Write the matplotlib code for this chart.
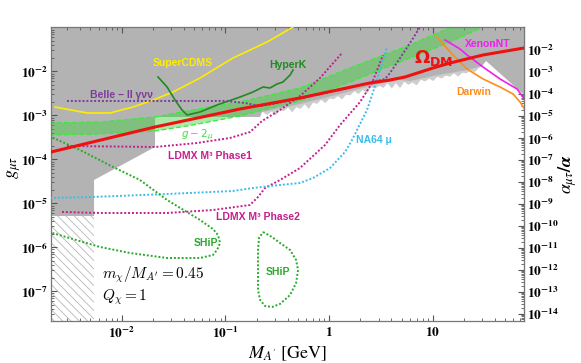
import numpy as np
import matplotlib
matplotlib.use('Agg')
import matplotlib.pyplot as plt
from matplotlib.ticker import FixedLocator, FuncFormatter, NullFormatter, LogLocator

plt.rcParams['mathtext.fontset'] = 'stix'
plt.rcParams['hatch.linewidth'] = 0.6

# ---------------- data (log10 M_A'/GeV , log10 g_mu_tau) ----------------
omega_lm = [-2.681, -1.678, -0.858, -0.280, 0.395, 0.588, 0.733, 1.003, 1.167, 1.485, 1.880]
omega_lg = [-3.830, -3.261, -2.852, -2.602, -2.261, -2.193, -2.125, -1.920, -1.807, -1.625, -1.466]

g2_up_lm = [-2.70, -2.208, -1.678, -1.369, -0.858, -0.280, 0.203, 0.781, 1.186]
g2_up_lg = [-3.170, -3.148, -3.034, -2.898, -2.693, -2.375, -1.920, -1.398, -0.980]
g2_lo_lm = [-2.70, -2.208, -1.678, -1.369, -0.858, -0.280, 0.203, 0.781, 1.167, 1.495]
g2_lo_lg = [-3.443, -3.420, -3.352, -3.239, -3.011, -2.670, -2.239, -1.693, -1.330, -0.980]

cdms_lm = [-2.642, -2.334, -2.112, -1.890, -1.697, -1.504, -1.244, -0.926, -0.598, -0.347]
cdms_lg = [-2.807, -2.943, -2.943, -2.807, -2.648, -2.466, -2.148, -1.693, -1.330, -0.989]

hyperk_lm = [-1.649, -1.562, -1.485, -1.418, -1.369, -1.244, -1.080, -0.858, -0.733, -0.636, -0.569, -0.501, -0.444, -0.376, -0.347]
hyperk_lg = [-2.125, -2.352, -2.648, -2.875, -2.989, -2.920, -2.761, -2.580, -2.466, -2.352, -2.375, -2.284, -2.239, -2.080, -1.966]

belle_lm = [-2.527, -1.003, -0.810, -0.665, -0.540, -0.212, 0.106, 0.424, 0.540, 0.588, 0.685, 0.781, 0.878]
belle_lg = [-2.670, -2.670, -2.716, -2.784, -2.739, -2.580, -2.420, -2.239, -2.170, -2.034, -1.693, -1.352, -0.989]

ldmx1_lm = [-2.527, -1.678, -1.273, -0.955, -0.762, -0.646, -0.473, -0.280, -0.087, 0.125]
ldmx1_lg = [-3.693, -3.716, -3.625, -3.511, -3.375, -3.125, -2.875, -2.557, -2.148, -1.580]

ldmx2_lm = [-2.575, -2.208, -1.562, -1.119, -0.762, -0.685, -0.617, -0.473, -0.280, -0.039, 0.106, 0.299, 0.415, 0.521]
ldmx2_lg = [-5.193, -5.216, -5.216, -5.148, -5.034, -4.852, -4.648, -4.466, -4.193, -3.670, -3.216, -2.693, -2.261, -1.625]

na64_lm = [-2.690, -2.276, -1.562, -0.926, -0.733, -0.473, -0.280, -0.154, 0.010, 0.154, 0.222, 0.299, 0.366, 0.424, 0.492, 0.559]
na64_lg = [-4.875, -4.852, -4.784, -4.716, -4.648, -4.580, -4.534, -4.420, -4.193, -3.830, -3.557, -3.193, -2.875, -2.466, -1.966, -1.443]

ship1_lm = [-2.70, -2.401, -2.083, -1.823, -1.562, -1.244, -1.119, -1.070, -1.051, -1.080, -1.119, -1.244, -1.562, -1.919, -2.208, -2.70]
ship1_lg = [-3.466, -3.784, -4.170, -4.466, -4.920, -5.375, -5.580, -5.720, -5.898, -6.057, -6.170, -6.239, -6.239, -6.125, -5.989, -5.648]

ship2_lm = [-0.636, -0.550, -0.473, -0.376, -0.318, -0.299, -0.318, -0.376, -0.473, -0.550, -0.617, -0.665, -0.685, -0.685, -0.685, -0.675, -0.636]
ship2_lg = [-5.648, -5.761, -5.898, -6.057, -6.284, -6.511, -6.807, -7.080, -7.284, -7.352, -7.330, -7.193, -6.966, -6.511, -6.057, -5.784, -5.648]

xenon_lm = [1.119, 1.263, 1.331, 1.485, 1.649, 1.813, 1.890]
xenon_lg = [-1.284, -1.489, -1.625, -1.898, -2.170, -2.398, -2.648]

darwin_lm = [1.041, 1.099, 1.196, 1.331, 1.485, 1.649, 1.774, 1.842, 1.890]
darwin_lg = [-1.216, -1.375, -1.625, -1.943, -2.170, -2.352, -2.511, -2.693, -2.875]

# excluded (gray) region
excl_left_lm = [-2.75, -2.75, -2.266, -2.266, -1.678, -1.678]
excl_left_lg = [-0.90, -5.284, -5.284, -4.466, -3.716, -3.034]
edge_lm = [-0.665, -0.646, -0.280, 0.106, 0.395, 0.521, 0.685, 0.781, 1.003, 1.167, 1.331, 1.475, 1.514]
edge_lg = [-3.034, -2.920, -2.739, -2.511, -2.330, -2.261, -2.193, -2.216, -2.102, -2.034, -1.966, -1.875, -1.761]
excl_right_lm = [1.95, 1.95]
excl_right_lg = [-2.68, -0.90]

# jagged fringe below the excluded edge (depth in decades)
fringe_lm = np.arange(-0.64, 1.50, 0.04)
fringe_depth = [0.0, 0.08, 0.02, 0.13, 0.03, 0.07, 0.01, 0.14, 0.04, 0.10, 0.02, 0.15, 0.03, 0.08,
                0.01, 0.11, 0.03, 0.07, 0.02, 0.12, 0.04, 0.08, 0.01, 0.10, 0.03, 0.14, 0.02, 0.07,
                0.03, 0.10, 0.01, 0.15, 0.04, 0.17, 0.02, 0.08, 0.03, 0.12, 0.01, 0.07, 0.03, 0.10,
                0.02, 0.08, 0.03, 0.07, 0.01, 0.10, 0.03, 0.06, 0.02, 0.08, 0.01, 0.0]

hatch_lm = [-2.75, -2.266]
hatch_top_lg = -5.284

xlim_l = (-2.684, 1.880)
ylim_l = (-7.664, -0.982)
xticks = [1e-2, 1e-1, 1, 10]
yticks = [1e-7, 1e-6, 1e-5, 1e-4, 1e-3, 1e-2]
aticks = [10.0 ** k for k in range(-14, -1)]
ALPHA_FAC = 137.036 / (4 * np.pi)


def P(a):
    return np.power(10.0, np.asarray(a, dtype=float))


fig = plt.figure(figsize=(5.81, 3.63), dpi=100)
ax = fig.add_axes([50.7 / 581, 1 - 320.7 / 363, (524 - 50.7) / 581, (320.7 - 26.7) / 363])
ax.set_xscale('log')
ax.set_yscale('log')
ax.set_xlim(P(xlim_l[0]), P(xlim_l[1]))
ax.set_ylim(P(ylim_l[0]), P(ylim_l[1]))

GRAY = '#b3b3b3'
# fringe
base = np.interp(fringe_lm, edge_lm, edge_lg)
ax.fill_between(P(fringe_lm), P(base - np.asarray(fringe_depth)), P(base + 0.3),
                color='#cdcdcd', lw=0, zorder=0.9)
# gray exclusion
ex_lm = excl_left_lm + edge_lm + excl_right_lm
ex_lg = excl_left_lg + edge_lg + excl_right_lg
ax.fill(P(ex_lm), P(ex_lg), color=GRAY, lw=0, zorder=1)
# hatch
ax.fill_between(P(hatch_lm), P(ylim_l[0] - 0.2), P(hatch_top_lg), facecolor='none',
                edgecolor='#b8b8b8', hatch='\\\\\\\\', lw=0, zorder=1)

# g-2 band
bx = np.concatenate([P(g2_up_lm), P(g2_lo_lm)[::-1]])
by = np.concatenate([P(g2_up_lg), P(g2_lo_lg)[::-1]])
ax.fill(bx, by, color='#40d040', alpha=0.45, lw=0, zorder=2)
ax.plot(P(g2_up_lm), P(g2_up_lg), color='#33ee33', ls=(0, (4, 2)), lw=0.9, zorder=2.5)
ax.plot(P(g2_lo_lm), P(g2_lo_lg), color='#33ee33', ls=(0, (4, 2)), lw=0.9, zorder=2.5)

YEL = '#ffec00'
DOT = (0, (1, 1))
ax.plot(P(cdms_lm), P(cdms_lg), color=YEL, lw=1.2, zorder=3)
ax.plot(P(hyperk_lm), P(hyperk_lg), color='#1f8a1f', lw=1.2, zorder=3)
ax.plot(P(belle_lm), P(belle_lg), color='#7d3c98', lw=1.4, ls=DOT, zorder=3)
ax.plot(P(ldmx1_lm), P(ldmx1_lg), color='#c41e8c', lw=1.4, ls=DOT, zorder=3)
ax.plot(P(ldmx2_lm), P(ldmx2_lg), color='#c41e8c', lw=1.4, ls=DOT, zorder=3)
ax.plot(P(na64_lm), P(na64_lg), color='#3bbcec', lw=1.4, ls=DOT, zorder=3)
ax.plot(P(ship1_lm), P(ship1_lg), color='#2aaa2a', lw=1.4, ls=DOT, zorder=3)
ax.plot(P(ship2_lm), P(ship2_lg), color='#2aaa2a', lw=1.4, ls=DOT, zorder=3)
ax.plot(P(xenon_lm), P(xenon_lg), color='#ee1fee', lw=1.2, zorder=3)
ax.plot(P(darwin_lm), P(darwin_lg), color='#ff8c1a', lw=1.2, zorder=3)
ax.plot(P(omega_lm), P(omega_lg), color='#ee1111', lw=2.2, zorder=4)

# labels
lab = dict(family='Liberation Sans', weight='bold', fontsize=7.5, ha='center', va='center', zorder=5)
ax.text(P(-1.408), P(-1.807), 'SuperCDMS', color=YEL, **lab)
ax.text(P(-0.395), P(-1.852), 'HyperK', color='#1f8a1f', **lab)
ax.text(P(-2.006), P(-2.534), 'Belle − II γνν', color='#7d3c98', **lab)
ax.text(P(-1.273), P(-3.443), r'$g-2_\mu$', color='#44dd44', math_fontfamily='dejavusans', **lab)
ax.text(P(-1.148), P(-3.920), 'LDMX M³ Phase1', color='#c41e8c', **lab)
ax.text(P(-0.685), P(-5.307), 'LDMX M³ Phase2', color='#c41e8c', **lab)
ax.text(P(-1.186), P(-5.898), 'SHiP', color='#2aaa2a', **lab)
ax.text(P(-0.492), P(-6.557), 'SHiP', color='#2aaa2a', **lab)
ax.text(P(0.434), P(-3.557), 'NA64 μ', color='#3bbcec', **lab)
ax.text(P(1.533), P(-1.375), 'XenonNT', color='#ee1fee', **lab)
ax.text(P(1.398), P(-2.466), 'Darwin', color='#ff8c1a', **lab)
ax.text(P(1.013), P(-1.693), r'$\mathbf{\Omega}_{\mathbf{DM}}$', color='#ee1111', fontsize=13,
        ha='center', va='center', math_fontfamily='dejavusans', zorder=5)
ax.text(P(-2.189), P(-6.625), r"$m_\chi/M_{A'}=0.45$", fontsize=11, math_fontfamily='cm',
        ha='left', va='center', zorder=5)
ax.text(P(-2.189), P(-7.125), r"$Q_\chi=1$", fontsize=11, math_fontfamily='cm',
        ha='left', va='center', zorder=5)


def fmt_pow(v, pos):
    if v <= 0:
        return ''
    k = int(round(np.log10(v)))
    if k >= 0:
        return r'$\mathbf{%d}$' % (10 ** k)
    return r'$\mathbf{10^{%d}}$' % k


ax.xaxis.set_major_locator(FixedLocator(xticks))
ax.xaxis.set_minor_locator(LogLocator(base=10, subs=np.arange(2, 10), numticks=50))
ax.yaxis.set_major_locator(FixedLocator(yticks))
ax.yaxis.set_minor_locator(LogLocator(base=10, subs=np.arange(2, 10), numticks=50))
ax.xaxis.set_major_formatter(FuncFormatter(fmt_pow))
ax.yaxis.set_major_formatter(FuncFormatter(fmt_pow))
ax.xaxis.set_minor_formatter(NullFormatter())
ax.yaxis.set_minor_formatter(NullFormatter())
ax.tick_params(which='both', direction='in', top=True, right=False, colors='#555555',
               labelcolor='black', labelsize=9.5)
ax.tick_params(which='major', length=4, width=0.8)
ax.tick_params(which='minor', length=2, width=0.6)
ax.tick_params(axis='x', pad=4)
ax.tick_params(axis='y', pad=2)
for s in ax.spines.values():
    s.set_color('#777777')
    s.set_linewidth(0.9)

sec = ax.secondary_yaxis('right', functions=(lambda g: ALPHA_FAC * np.asarray(g) ** 2,
                                              lambda a: np.sqrt(np.abs(a) / ALPHA_FAC)))
sec.yaxis.set_major_locator(FixedLocator(aticks))
sec.yaxis.set_minor_locator(LogLocator(base=10, subs=np.arange(2, 10), numticks=60))
sec.yaxis.set_major_formatter(FuncFormatter(fmt_pow))
sec.yaxis.set_minor_formatter(NullFormatter())
sec.tick_params(which='both', direction='in', colors='#555555', labelcolor='black', labelsize=9.5,
                pad=2)
sec.tick_params(which='major', length=4, width=0.8)
sec.tick_params(which='minor', length=2, width=0.6)
sec.spines['right'].set_color('#777777')
ax.text(1.093, 0.5, r'$\boldsymbol{\alpha_{\mu\tau}/\alpha}$', fontsize=13, rotation=90,
        ha='center', va='center', transform=ax.transAxes)

ax.set_xlabel(r"$M_{A'}\ [\mathrm{GeV}]$", fontsize=13, labelpad=2)
ax.text(-0.078, 0.52, r'$\boldsymbol{g_{\mu\tau}}$', fontsize=13, rotation=90,
        ha='center', va='center', transform=ax.transAxes)

fig.savefig('out.png', dpi=100)
